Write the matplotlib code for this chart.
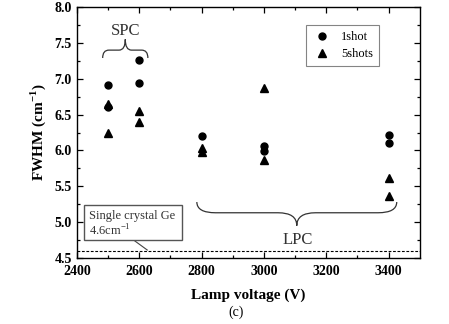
import numpy as np
import matplotlib
matplotlib.use("Agg")
import matplotlib.pyplot as plt
from matplotlib.path import Path
from matplotlib.patches import PathPatch, Rectangle

# ------------------------------------------------------------
# Data
# ------------------------------------------------------------
volt_1shot = [2500, 2500, 2600, 2600, 2800, 3000, 3000, 3400, 3400]
fwhm_1shot = [6.92, 6.61, 7.26, 6.94, 6.20, 6.06, 5.99, 6.21, 6.11]

volt_5shots = [2500, 2500, 2600, 2600, 2800, 2800, 3000, 3000, 3400, 3400]
fwhm_5shots = [6.65, 6.25, 6.55, 6.39, 6.04, 5.98, 6.87, 5.87, 5.61, 5.37]

ge_ref = 4.6

plt.rcParams["font.family"] = ["Liberation Serif", "DejaVu Serif"]
plt.rcParams["mathtext.fontset"] = "custom"
plt.rcParams["mathtext.rm"] = "Liberation Serif"
plt.rcParams["mathtext.bf"] = "Liberation Serif:bold"


def brace(ax, x0, x1, y_end, y_mid, y_tip, r):
    xm = (x0 + x1) / 2.0
    verts = [
        (x0, y_end), (x0, y_mid), (x0 + r, y_mid),
        (xm - r, y_mid),
        (xm, y_mid), (xm, y_tip),
        (xm, y_mid), (xm + r, y_mid),
        (x1 - r, y_mid),
        (x1, y_mid), (x1, y_end),
    ]
    codes = [Path.MOVETO, Path.CURVE3, Path.CURVE3,
             Path.LINETO,
             Path.CURVE3, Path.CURVE3,
             Path.CURVE3, Path.CURVE3,
             Path.LINETO,
             Path.CURVE3, Path.CURVE3]
    ax.add_patch(PathPatch(Path(verts, codes), fill=False, lw=0.9,
                           edgecolor="#333333", clip_on=False))


fig = plt.figure(figsize=(4.49, 3.24), dpi=100)
ax = fig.add_axes([0.171, 0.204, 0.764, 0.774])

ax.plot(volt_1shot, fwhm_1shot, "o", color="black", ms=5, label="1shot")
ax.plot(volt_5shots, fwhm_5shots, "^", color="black", ms=5.5, label="5shots")

ax.axhline(ge_ref, color="black", lw=0.8, ls=(0, (2.5, 1.5)))

# annotation box for single crystal Ge
ax.add_patch(Rectangle((2423, 4.75), 314, 0.49, facecolor="white",
                       edgecolor="#555555", lw=1.0, zorder=3))
ax.text(2440, 5.08, "Single crystal Ge", fontsize=9, va="center",
        ha="left", color="#333333", zorder=4)
ax.text(2440, 4.88, "4.6cm$^{-1}$", fontsize=9, va="center",
        ha="left", color="#333333", zorder=4)
ax.plot([2582, 2626], [4.75, 4.61], color="#444444", lw=0.8)

# SPC / LPC braces
brace(ax, 2483, 2628, 7.29, 7.40, 7.55, 20)
ax.text(2556, 7.66, "SPC", fontsize=12, ha="center", va="center",
        color="#333333")
brace(ax, 2785, 3426, 5.28, 5.13, 4.95, 60)
ax.text(3110, 4.75, "LPC", fontsize=12, ha="center", va="center",
        color="#333333")

ax.set_xlim(2400, 3500)
ax.set_ylim(4.5, 8.0)
ax.set_xticks(np.arange(2400, 3401, 200))
ax.set_xticks(np.arange(2500, 3500, 200), minor=True)
ax.set_yticks(np.arange(4.5, 8.01, 0.5))
ax.set_yticks(np.arange(4.75, 8.0, 0.5), minor=True)
ax.yaxis.set_major_formatter(matplotlib.ticker.FormatStrFormatter("%.1f"))
ax.tick_params(which="both", direction="in", top=True, right=True,
               labelsize=10, width=0.9)
ax.tick_params(which="major", length=4)
ax.tick_params(which="minor", length=2.5)
ax.tick_params(axis="x", which="major", pad=5)
for lab in ax.get_xticklabels() + ax.get_yticklabels():
    lab.set_fontweight("bold")
for sp in ax.spines.values():
    sp.set_linewidth(1.0)

ax.set_xlabel("Lamp voltage (V)", fontsize=11, fontweight="bold",
              labelpad=8)
ax.set_ylabel("FWHM (cm$^{\\mathbf{-1}}$)", fontsize=11, fontweight="bold",
              labelpad=5)
fig.text(0.526, 0.037, "(c)", fontsize=10, ha="center", va="center")

leg = ax.legend(loc="upper right", bbox_to_anchor=(0.9, 0.955),
                fontsize=9, frameon=True, fancybox=False,
                handletextpad=0.8, borderpad=0.5, labelspacing=0.4,
                handlelength=1.5)
leg.get_frame().set_edgecolor("#666666")
leg.get_frame().set_linewidth(0.8)

plt.savefig("out.png", dpi=100)
